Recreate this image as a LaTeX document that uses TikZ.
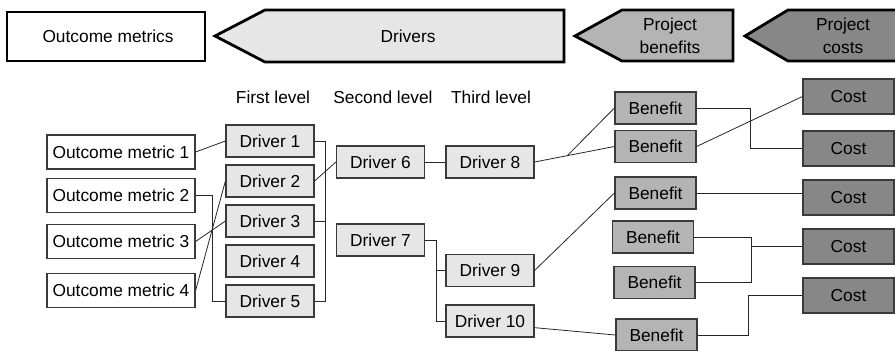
\documentclass[tikz,border=0pt]{standalone}
\usepackage{fontspec}
\setmainfont{Liberation Sans}
\usetikzlibrary{calc}
\definecolor{drvfill}{HTML}{E6E6E6}
\definecolor{benfill}{HTML}{B4B4B4}
\definecolor{costfill}{HTML}{878787}
\definecolor{edge}{HTML}{3A3A3A}
\begin{document}
\begin{tikzpicture}[x=0.75pt,y=-0.75pt,
  txt/.style={font=\fontsize{13}{17}\selectfont},
  box/.style={txt,draw=edge,line width=0.9pt,inner sep=0pt,minimum height=24pt},
  ombox/.style={box,fill=white,minimum width=111pt,minimum height=25.5pt},
  drvbox/.style={box,fill=drvfill,minimum width=66pt},
  benbox/.style={box,fill=benfill,minimum width=60.75pt},
  costbox/.style={box,fill=costfill,minimum width=68.25pt,minimum height=26.25pt},
  hdr/.style={draw=black,line width=2.1pt,line join=miter},
  conn/.style={draw=black!85,line width=0.6pt}]
\useasboundingbox (0,0) rectangle (895,350);
% header
\draw[hdr,fill=white] (7,12) rectangle (205,61);
\node[txt] (hom) at (108,36.5) {Outcome metrics};
\draw[hdr,fill=drvfill] (215,36) -- (265,10) -- (564,10) -- (564,62) -- (265,62) -- cycle;
\node[txt] (hdrv) at (408,36) {Drivers};
\draw[hdr,fill=benfill] (575,36) -- (622,10) -- (733,10) -- (733,61) -- (622,61) -- cycle;
\node[txt,align=center] (hben) at (670,36) {Project\\benefits};
\draw[hdr,fill=costfill] (745,36) -- (788,10) -- (905,10) -- (905,61) -- (788,61) -- cycle;
\node[txt,align=center] (hcost) at (843,36) {Project\\costs};
% level labels
\node[txt] (l1) at (273,97) {First level};
\node[txt] (l2) at (383,97) {Second level};
\node[txt] (l3) at (491,97) {Third level};
% outcome metrics
\node[ombox] (om1) at (121,152) {Outcome metric 1};
\node[ombox] (om2) at (121,195.5) {Outcome metric 2};
\node[ombox] (om3) at (121,241.5) {Outcome metric 3};
\node[ombox] (om4) at (121,290.5) {Outcome metric 4};
% drivers
\node[drvbox] (d1) at (270,141) {Driver 1};
\node[drvbox] (d2) at (270,181) {Driver 2};
\node[drvbox] (d3) at (270,221) {Driver 3};
\node[drvbox] (d4) at (270,261) {Driver 4};
\node[drvbox] (d5) at (270,301) {Driver 5};
\node[drvbox] (d6) at (380.5,162) {Driver 6};
\node[drvbox] (d7) at (380.5,240) {Driver 7};
\node[drvbox] (d8) at (490,162) {Driver 8};
\node[drvbox] (d9) at (490,270.5) {Driver 9};
\node[drvbox] (d10) at (490,321) {Driver 10};
% benefits
\node[benbox] (b1) at (655.5,108) {Benefit};
\node[benbox] (b2) at (655.5,146.5) {Benefit};
\node[benbox] (b3) at (655.5,193) {Benefit};
\node[benbox] (b4) at (653,237) {Benefit};
\node[benbox] (b5) at (654.5,282.5) {Benefit};
\node[benbox] (b6) at (656.5,335) {Benefit};
% costs
\node[costbox] (c1) at (848.5,96.5) {Cost};
\node[costbox] (c2) at (848.5,148.5) {Cost};
\node[costbox] (c3) at (848.5,197.5) {Cost};
\node[costbox] (c4) at (848.5,246.5) {Cost};
\node[costbox] (c5) at (848.5,295.5) {Cost};
% connectors: outcome metrics - drivers
\draw[conn] (om1.east) -- (d1.west);
\draw[conn] (om2.east) -- ++(17,0) |- (d5.west);
\draw[conn] (om3.east) -- (d3.west);
\draw[conn] (om4.east) -- (d2.west);
% bracket
\draw[conn] (d1.east) -- ++(11,0) |- (d5.east);
\draw[conn] (d3.east) -- ++(11,0);
\draw[conn] (d2.east) -- (d6.west);
\draw[conn] (d6.east) -- (d8.west);
\draw[conn] (d7.east) -- ++(11,0) coordinate (k7) |- (d10.west);
\draw[conn] (d9.west) -- (k7 |- d9.west);
% drivers - benefits
\draw[conn] (d8.east) -- coordinate[pos=0.41] (j8) (b2.west);
\draw[conn] (j8) -- (b1.west);
\draw[conn] (d9.east) -- (b3.west);
\draw[conn] ([yshift=-5pt]d10.east) -- (b6.west);
% benefits - costs
\draw[conn] (b1.east) -- ++(54,0) |- (c2.west);
\draw[conn] (b2.east) -- (c1.west);
\draw[conn] (b3.east) -- (c3.west |- b3.east);
\draw[conn] (b4.east) -- ++(57,0) coordinate (k4) |- (b5.east);
\draw[conn] (c4.west) -- (k4 |- c4.west);
\draw[conn] (b6.east) -- ++(51,0) |- (c5.west);
\end{tikzpicture}
\end{document}
